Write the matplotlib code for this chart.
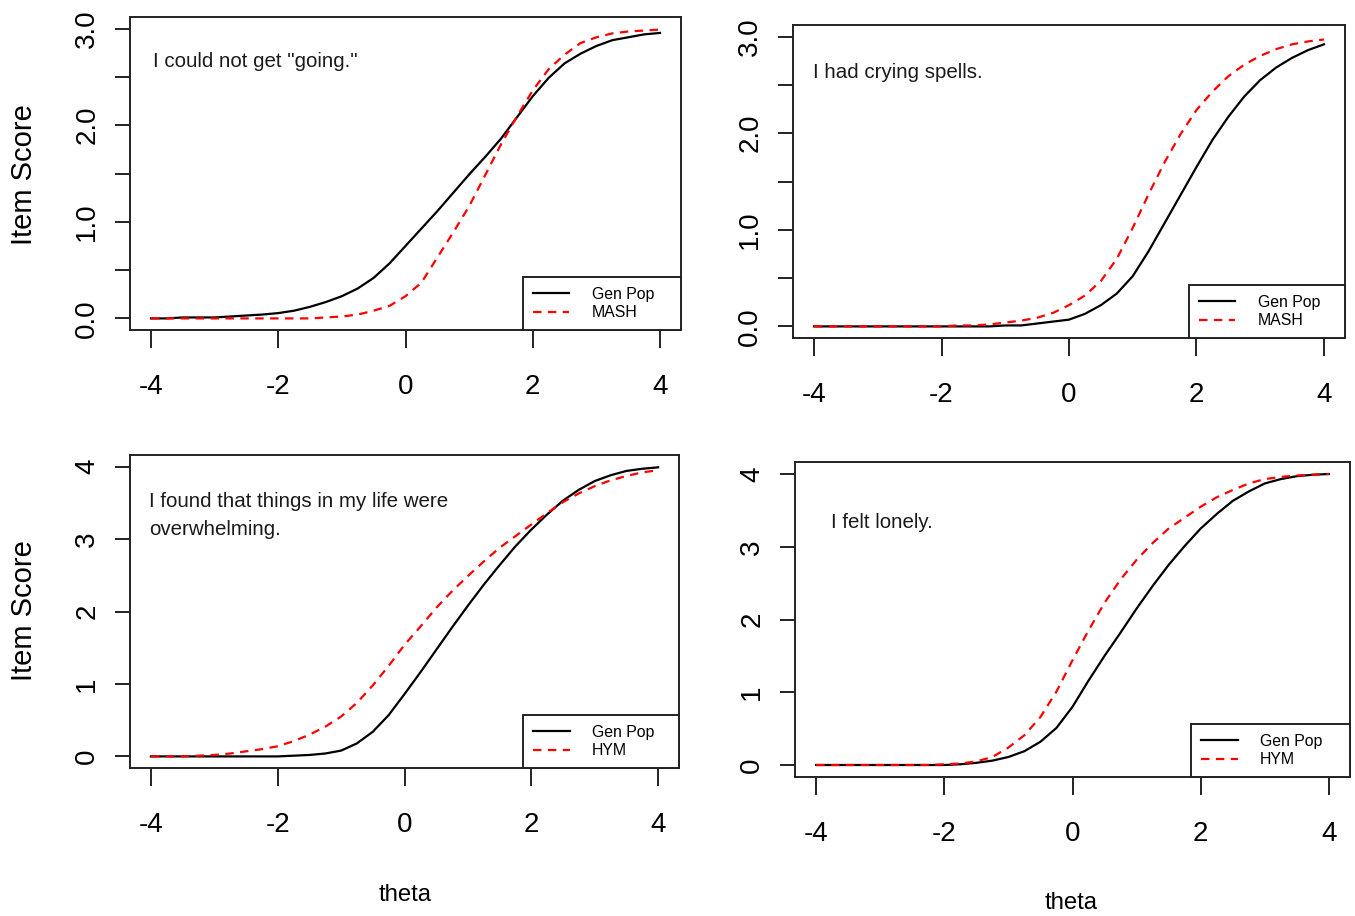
import numpy as np
import matplotlib
matplotlib.use('Agg')
import matplotlib.pyplot as plt
from matplotlib import font_manager

# theta grid and item curves (step 0.25)
theta = [-4.0, -3.75, -3.5, -3.25, -3.0, -2.75, -2.5, -2.25, -2.0, -1.75, -1.5,
         -1.25, -1.0, -0.75, -0.5, -0.25, 0.0, 0.25, 0.5, 0.75, 1.0, 1.25, 1.5,
         1.75, 2.0, 2.25, 2.5, 2.75, 3.0, 3.25, 3.5, 3.75, 4.0]

going_genpop = [0.00, 0.00, 0.01, 0.01, 0.01, 0.02, 0.03, 0.04, 0.055, 0.08, 0.12,
                0.17, 0.23, 0.31, 0.42, 0.57, 0.75, 0.93, 1.11, 1.30, 1.49, 1.67,
                1.86, 2.08, 2.30, 2.49, 2.64, 2.74, 2.82, 2.88, 2.91, 2.94, 2.955]
going_mash = [0.00, 0.00, 0.00, 0.00, 0.00, 0.00, 0.00, 0.00, 0.00, 0.00, 0.00,
              0.01, 0.02, 0.04, 0.08, 0.13, 0.23, 0.37, 0.63, 0.89, 1.16, 1.48,
              1.80, 2.09, 2.36, 2.58, 2.73, 2.85, 2.91, 2.95, 2.97, 2.98, 2.99]

crying_genpop = [0.00, 0.00, 0.00, 0.00, 0.00, 0.00, 0.00, 0.00, 0.00, 0.00, 0.00,
                 0.00, 0.01, 0.01, 0.03, 0.05, 0.07, 0.13, 0.22, 0.34, 0.52, 0.78,
                 1.07, 1.36, 1.65, 1.93, 2.17, 2.38, 2.55, 2.68, 2.78, 2.86, 2.92]
crying_mash = [0.00, 0.00, 0.00, 0.00, 0.00, 0.00, 0.00, 0.00, 0.00, 0.01, 0.01,
               0.02, 0.04, 0.06, 0.09, 0.14, 0.22, 0.32, 0.47, 0.70, 1.02, 1.37,
               1.70, 1.99, 2.24, 2.43, 2.59, 2.71, 2.80, 2.87, 2.92, 2.95, 2.97]

overwhelm_genpop = [0.00, 0.00, 0.00, 0.00, 0.00, 0.00, 0.00, 0.00, 0.00, 0.01, 0.02,
                    0.04, 0.08, 0.18, 0.34, 0.57, 0.86, 1.16, 1.47, 1.78, 2.08, 2.37,
                    2.64, 2.90, 3.13, 3.34, 3.53, 3.68, 3.80, 3.88, 3.94, 3.97, 3.99]
overwhelm_hym = [0.00, 0.00, 0.00, 0.01, 0.02, 0.04, 0.07, 0.10, 0.14, 0.21, 0.30,
                 0.41, 0.55, 0.74, 0.98, 1.25, 1.54, 1.79, 2.05, 2.28, 2.49, 2.69,
                 2.88, 3.04, 3.20, 3.36, 3.51, 3.63, 3.73, 3.81, 3.87, 3.92, 3.95]

lonely_genpop = [0.00, 0.00, 0.00, 0.00, 0.00, 0.00, 0.00, 0.00, 0.00, 0.01, 0.03,
                 0.06, 0.11, 0.19, 0.32, 0.51, 0.80, 1.16, 1.50, 1.82, 2.15, 2.46,
                 2.75, 3.01, 3.25, 3.45, 3.63, 3.76, 3.87, 3.93, 3.97, 3.99, 4.00]
lonely_hym = [0.00, 0.00, 0.00, 0.00, 0.00, 0.00, 0.00, 0.00, 0.01, 0.02, 0.05,
              0.11, 0.24, 0.41, 0.66, 1.01, 1.44, 1.85, 2.23, 2.55, 2.82, 3.05,
              3.25, 3.40, 3.55, 3.68, 3.78, 3.87, 3.93, 3.96, 3.98, 3.99, 4.00]

x_ticks = [-4, -2, 0, 2, 4]
y_ticks_3 = [0.0, 0.5, 1.0, 1.5, 2.0, 2.5, 3.0]
y_labels_3 = ['0.0', '', '1.0', '', '2.0', '', '3.0']
y_ticks_4 = [0, 1, 2, 3, 4]
y_labels_4 = ['0', '1', '2', '3', '4']

# narrow font for the stretched-looking text, if present
installed = {f.name for f in font_manager.fontManager.ttflist}
if 'Liberation Sans Narrow' in installed:
    NARROW, nscale = 'Liberation Sans Narrow', 1.0
else:
    NARROW, nscale = 'Liberation Sans', 0.82

plt.rcParams['font.family'] = ['Liberation Sans', 'DejaVu Sans']
plt.rcParams['axes.unicode_minus'] = False

fig = plt.figure(figsize=(13.55, 9.16), dpi=100)
W, H = 1355.0, 916.0


def px_axes(x0, y0, x1, y1):
    return fig.add_axes([x0 / W, 1 - y1 / H, (x1 - x0) / W, (y1 - y0) / H])


panels = [
    dict(box=(130, 17, 681, 330), gen=going_genpop, grp=going_mash, grp_name='MASH',
         yt=y_ticks_3, yl=y_labels_3, ylim=(-0.12, 3.12),
         text=[('I could not get "going."', -3.97, 2.606)], leg_w=0.287),
    dict(box=(793, 25, 1345, 338), gen=crying_genpop, grp=crying_mash, grp_name='MASH',
         yt=y_ticks_3, yl=y_labels_3, ylim=(-0.12, 3.12),
         text=[('I had crying spells.', -4.02, 2.567)], leg_w=0.283),
    dict(box=(130, 455, 679, 768), gen=overwhelm_genpop, grp=overwhelm_hym, grp_name='HYM',
         yt=y_ticks_4, yl=y_labels_4, ylim=(-0.16, 4.16),
         text=[('I found that things in my life were', -4.03, 3.442),
               ('overwhelming.', -4.03, 3.049)], leg_w=0.284),
    dict(box=(795, 462, 1350, 777), gen=lonely_genpop, grp=lonely_hym, grp_name='HYM',
         yt=y_ticks_4, yl=y_labels_4, ylim=(-0.165, 4.165),
         text=[('I felt lonely.', -3.77, 3.254)], leg_w=0.286),
]

for p in panels:
    ax = px_axes(*p['box'])
    ax.plot(theta, p['gen'], color='black', lw=1.6, label='Gen Pop')
    ax.plot(theta, p['grp'], color='#ff0000', lw=1.6, dashes=(3.8, 2.9), label=p['grp_name'])
    ax.set_xlim(-4.33, 4.33)
    ax.set_ylim(*p['ylim'])
    ax.set_xticks(x_ticks)
    ax.set_xticklabels([str(v) for v in x_ticks], fontsize=20)
    ax.set_yticks(p['yt'])
    ax.set_yticklabels(p['yl'], rotation=90, va='center', fontsize=20)
    ax.tick_params(axis='x', length=13, width=1.4, pad=19, color='#222222')
    ax.tick_params(axis='y', length=10.5, width=1.4, pad=11, color='#222222')
    for s in ax.spines.values():
        s.set_linewidth(1.4)
        s.set_color('#222222')
    for txt, tx, ty in p['text']:
        ax.text(tx, ty, txt, family=NARROW, fontsize=18 * nscale,
                ha='left', va='baseline', color='#1a1a1a')
    leg = ax.legend(loc='lower left', bbox_to_anchor=(1 - p['leg_w'], 0, p['leg_w'], 0.2),
                    mode='expand', borderaxespad=0, fancybox=False, framealpha=1,
                    edgecolor='#222222', prop={'family': NARROW, 'size': 14 * nscale},
                    handlelength=2.3, handletextpad=1.4, labelspacing=0.2, borderpad=0.62)
    leg.get_frame().set_linewidth(1.4)

# axis titles, R style
fig.text(24 / W, 1 - 175 / H, 'Item Score', rotation=90, ha='center', va='center', fontsize=21)
fig.text(24 / W, 1 - 611 / H, 'Item Score', rotation=90, ha='center', va='center', fontsize=21)
fig.text(405 / W, 1 - 901 / H, 'theta', ha='center', va='baseline',
         family=NARROW, fontsize=21 * nscale)
fig.text(1071 / W, 1 - 909 / H, 'theta', ha='center', va='baseline',
         family=NARROW, fontsize=21 * nscale)

fig.savefig('out.png', dpi=100)
